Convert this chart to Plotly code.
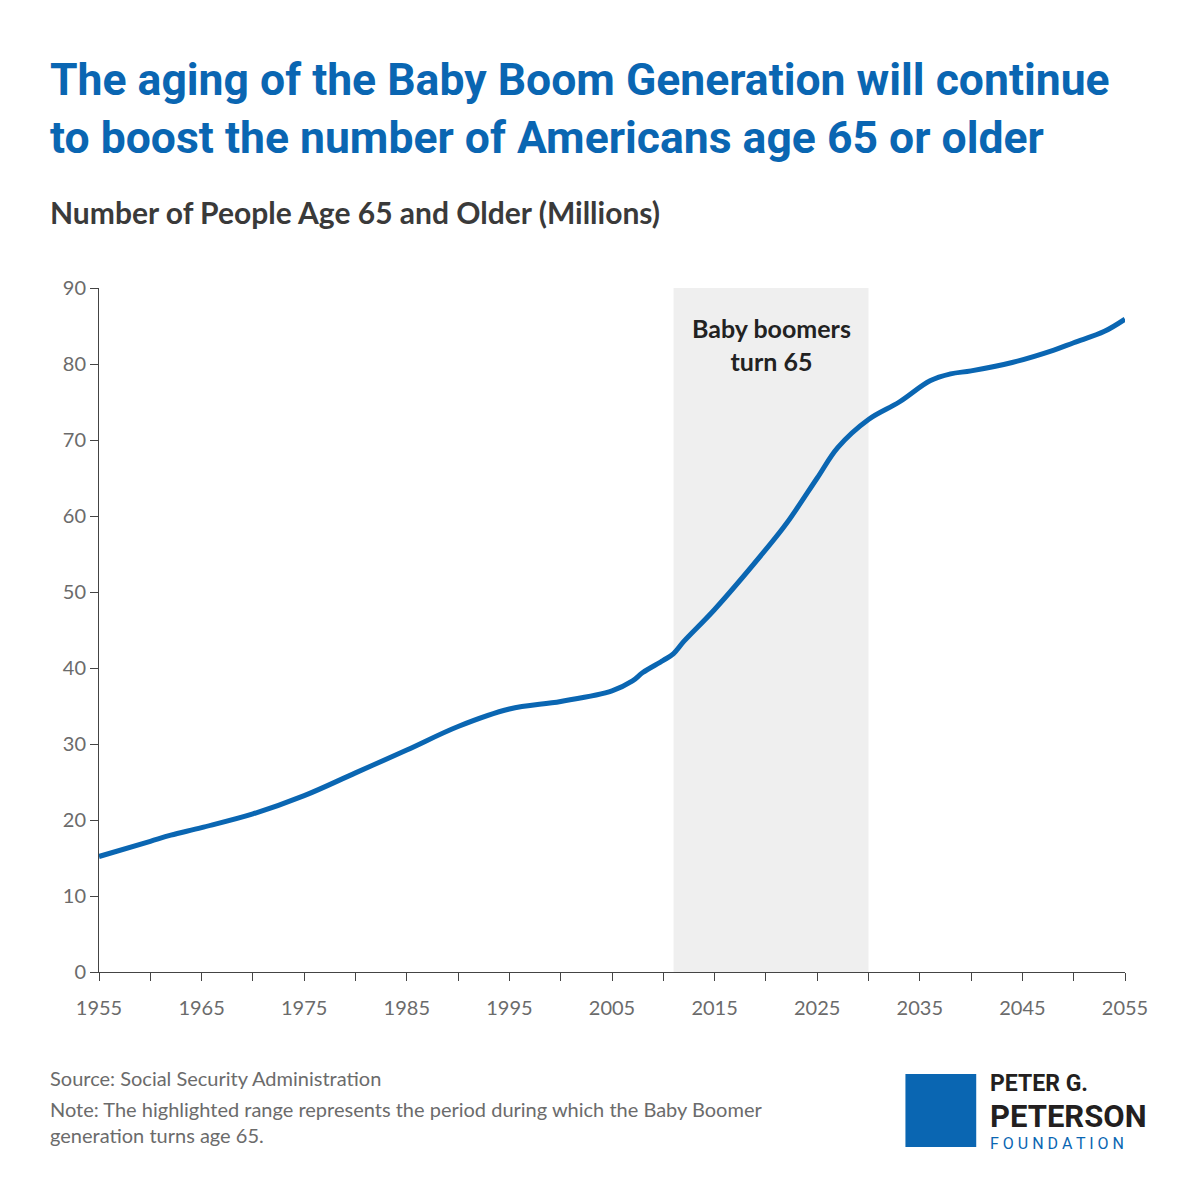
import plotly.graph_objects as go

years = [1955, 1960, 1962, 1965, 1970, 1975, 1980, 1985, 1990, 1995, 2000, 2005, 2007, 2008,
         2010, 2011, 2012, 2015, 2020, 2022, 2025, 2027, 2030, 2033, 2036, 2038, 2040, 2044,
         2048, 2050, 2053, 2055]
people = [15.2, 17.2, 18.0, 19.0, 20.8, 23.2, 26.2, 29.2, 32.3, 34.6, 35.6, 37.0, 38.3, 39.4,
          41.0, 41.9, 43.5, 47.7, 55.6, 59.0, 65.0, 69.0, 72.7, 75.0, 77.8, 78.7, 79.1, 80.2,
          81.8, 82.8, 84.3, 85.9]
boom_start, boom_end = 2011, 2030
tick_years = list(range(1955, 2056, 10))

blue = '#0a66b2'
grey = '#6b6b6b'

fig = go.Figure()
fig.add_vrect(x0=boom_start, x1=boom_end, fillcolor='#efefef', line_width=0, layer='below')
fig.add_trace(go.Scatter(x=years, y=people, mode='lines', line=dict(color=blue, width=5, shape='spline'),
                         showlegend=False, hoverinfo='x+y'))
fig.add_annotation(x=(boom_start + boom_end) / 2, y=87, yanchor='top', text='<b>Baby boomers<br>turn 65</b>',
                   showarrow=False, font=dict(size=25, color='#222222', family='Lato'))

# title and notes
fig.add_annotation(xref='paper', yref='paper', x=-0.05, y=1.345, xanchor='left', yanchor='top', align='left',
                   text='<b>The aging of the Baby Boom Generation will continue<br>to boost the number of Americans age 65 or older</b>',
                   showarrow=False, font=dict(size=44.5, color=blue, family='Roboto'))
fig.add_annotation(xref='paper', yref='paper', x=-0.05, y=1.14, xanchor='left', yanchor='top',
                   text='<b>Number of People Age 65 and Older (Millions)</b>', showarrow=False,
                   font=dict(size=30, color='#3a3a3a', family='Lato'))
fig.add_annotation(xref='paper', yref='paper', x=-0.05, y=-0.135, xanchor='left', yanchor='top', align='left',
                   text='Source: Social Security Administration', showarrow=False,
                   font=dict(size=20, color=grey, family='Lato'))
fig.add_annotation(xref='paper', yref='paper', x=-0.05, y=-0.18, xanchor='left', yanchor='top', align='left',
                   text='Note: The highlighted range represents the period during which the Baby Boomer<br>generation turns age 65.',
                   showarrow=False, font=dict(size=20, color=grey, family='Lato'))

# logo
fig.add_shape(type='rect', xref='paper', yref='paper', x0=0.786, x1=0.855, y0=-0.256, y1=-0.149,
              fillcolor=blue, line_width=0)
fig.add_annotation(xref='paper', yref='paper', x=0.866, y=-0.140, xanchor='left', yanchor='top', align='left',
                   text='<b>PETER G.</b>', showarrow=False, font=dict(size=23, color='#231f20', family='Roboto'))
fig.add_annotation(xref='paper', yref='paper', x=0.866, y=-0.181, xanchor='left', yanchor='top', align='left',
                   text='<b>PETERSON</b>', showarrow=False, font=dict(size=31, color='#231f20', family='Roboto'))
fig.add_annotation(xref='paper', yref='paper', x=0.866, y=-0.234, xanchor='left', yanchor='top', align='left',
                   text='F O U N D A T I O N', showarrow=False, font=dict(size=16, color=blue, family='Roboto'))

fig.update_xaxes(range=[1955, 2055], tickvals=tick_years, ticks='outside', ticklen=8, tickcolor='#444',
                 showline=True, linecolor='#444', linewidth=1, showgrid=False, zeroline=False,
                 minor=dict(dtick=5, tick0=1955, ticks='outside', ticklen=8, tickcolor='#444'),
                 ticklabelstandoff=10, tickfont=dict(size=20, color=grey, family='Lato'))
fig.update_yaxes(range=[0, 90], dtick=10, ticks='outside', ticklen=8, tickcolor='#444',
                 showline=True, linecolor='#444', linewidth=1, showgrid=False, zeroline=False,
                 tickfont=dict(size=20, color=grey, family='Lato'))
fig.update_layout(width=1200, height=1200, plot_bgcolor='white', paper_bgcolor='white',
                  margin=dict(l=91, r=83, t=280, b=236))

fig.write_html('out.html')
